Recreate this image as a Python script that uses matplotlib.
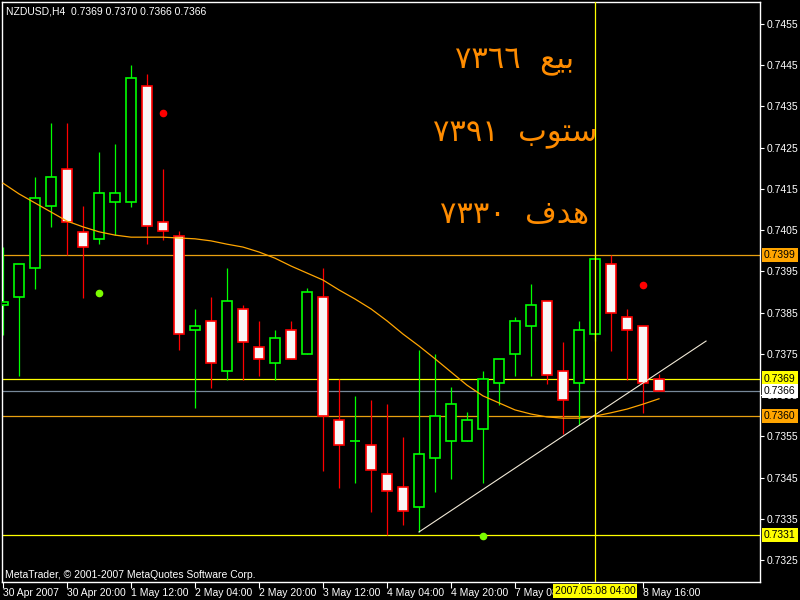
import matplotlib
matplotlib.use("Agg")
import matplotlib.pyplot as plt
from matplotlib.transforms import blended_transform_factory
import numpy as np

plt.rcParams["font.family"] = ["Liberation Sans", "DejaVu Sans"]

# ---- data (NZDUSD H4) ----
opens  = [0.73869, 0.73888, 0.73958, 0.74109, 0.74198, 0.74046, 0.74029, 0.74118, 0.74118, 0.74400,
          0.74070, 0.74036, 0.73808, 0.73830, 0.73708, 0.73859, 0.73767, 0.73728, 0.73808, 0.73750,
          0.73888, 0.73590, 0.73539, 0.73529, 0.73459, 0.73427, 0.73379, 0.73497, 0.73539, 0.73539,
          0.73568, 0.73679, 0.73750, 0.73818, 0.73878, 0.73708, 0.73679, 0.73798, 0.73968, 0.73839,
          0.73818, 0.73690]
highs  = [0.74009, 0.73968, 0.74179, 0.74310, 0.74310, 0.74109, 0.74240, 0.74259, 0.74451, 0.74429,
          0.74198, 0.74048, 0.73859, 0.73888, 0.73958, 0.73869, 0.73830, 0.73808, 0.73830, 0.73910,
          0.73958, 0.73689, 0.73648, 0.73638, 0.73628, 0.73548, 0.73759, 0.73750, 0.73670, 0.73609,
          0.73708, 0.73738, 0.73839, 0.73919, 0.73878, 0.73779, 0.73830, 0.73990, 0.73990, 0.73859,
          0.73818, 0.73700]
lows   = [0.73796, 0.73696, 0.73907, 0.74058, 0.73990, 0.73885, 0.74016, 0.74038, 0.74106, 0.74016,
          0.74026, 0.73759, 0.73619, 0.73667, 0.73687, 0.73687, 0.73696, 0.73687, 0.73738, 0.73750,
          0.73466, 0.73425, 0.73437, 0.73366, 0.73310, 0.73335, 0.73318, 0.73415, 0.73446, 0.73539,
          0.73437, 0.73626, 0.73696, 0.73696, 0.73677, 0.73556, 0.73577, 0.73780, 0.73757, 0.73687,
          0.73607, 0.73660]
closes = [0.73876, 0.73968, 0.74128, 0.74179, 0.74070, 0.74009, 0.74140, 0.74140, 0.74419, 0.74060,
          0.74048, 0.73798, 0.73818, 0.73728, 0.73878, 0.73779, 0.73738, 0.73788, 0.73738, 0.73900,
          0.73599, 0.73529, 0.73539, 0.73468, 0.73417, 0.73369, 0.73507, 0.73599, 0.73628, 0.73590,
          0.73689, 0.73738, 0.73830, 0.73869, 0.73699, 0.73638, 0.73808, 0.73980, 0.73849, 0.73808,
          0.73679, 0.73660]
ma_vals = [0.74164, 0.74138, 0.74116, 0.74094, 0.74072, 0.74058, 0.74046, 0.74038, 0.74033, 0.74033,
           0.74033, 0.74031, 0.74029, 0.74024, 0.74016, 0.74009, 0.73997, 0.73982, 0.73963, 0.73946,
           0.73929, 0.73905, 0.73883, 0.73859, 0.73830, 0.73798, 0.73769, 0.73738, 0.73706, 0.73674,
           0.73648, 0.73631, 0.73614, 0.73604, 0.73597, 0.73594, 0.73594, 0.73599, 0.73607, 0.73616,
           0.73628, 0.73641]
red_dots_x = [10, 40]
red_dots_y = [0.74334, 0.73917]
green_dots_x = [6, 30]
green_dots_y = [0.73898, 0.73308]
trend_x = [26, 43.94]
trend_y = [0.73318, 0.73781]
hlines_orange = [0.7399, 0.7360]
hlines_yellow = [0.7369, 0.7331]
bid = 0.7366
cross_k = 37
cross_label = "2007.05.08 04:00"

xtick_pos = [0, 4, 8, 12, 16, 20, 24, 28, 32, 36, 40]
xtick_labels = ["30 Apr 2007", "30 Apr 20:00", "1 May 12:00", "2 May 04:00", "2 May 20:00",
                "3 May 12:00", "4 May 04:00", "4 May 20:00", "7 May 08:00", "",
                "8 May 16:00"]
ytick_vals = [0.7325, 0.7335, 0.7345, 0.7355, 0.7365, 0.7375, 0.7385, 0.7395, 0.7405,
              0.7415, 0.7425, 0.7435, 0.7445, 0.7455]

header = "NZDUSD,H4  0.7369 0.7370 0.7366 0.7366"
footer = "MetaTrader, \u00a9 2001-2007 MetaQuotes Software Corp."
# Arabic notes (presentation forms, visual order): "بيع ٧٣٦٦", "ستوب ٧٣٩١", "هدف ٧٣٣٠"
notes = ["\u0667\u0663\u0666\u0666  \uFECA\uFEF4\uFE91",
         "\u0667\u0663\u0669\u0661  \uFE8F\uFEEE\uFE98\uFEB3",
         "\u0667\u0663\u0663\u0660  \uFED1\uFEAA\uFEEB"]
notes_y = [0.74458, 0.74281, 0.74089]

# ---- figure ----
fig = plt.figure(figsize=(8, 6), dpi=100, facecolor="black")
ax = fig.add_axes([2/800, 18/600, 758/800, 580/600], facecolor="black")
ax.set_xlim(-0.0625, 47.3125)
ax.set_ylim(0.731966, 0.746034)

for s in ax.spines.values():
    s.set_color("white")
    s.set_linewidth(1)

# horizontal / vertical lines
for v in hlines_orange:
    ax.axhline(v, color="#E8A010", lw=0.9, zorder=1)
for v in hlines_yellow:
    ax.axhline(v, color="#FFFF00", lw=0.9, zorder=1)
ax.axhline(bid, color="#778899", lw=0.9, zorder=1)
ax.axvline(cross_k, color="#FFFF00", lw=0.9, zorder=6)

# candles
n = len(opens)
xs = np.arange(n)
for i in range(n):
    o, h, l, c = opens[i], highs[i], lows[i], closes[i]
    bull = c >= o
    col = "#00FF00" if bull else "#FF0000"
    ax.vlines(i, l, h, color=col, lw=0.9, zorder=2)
    ax.bar(i, abs(c - o), bottom=min(o, c), width=0.58,
           facecolor="black" if bull else "#F8F8F8", edgecolor=col, linewidth=1.2, zorder=3)

# moving average
ax.plot(xs, ma_vals, color="#FFA500", lw=0.9, zorder=4)
# trend line
ax.plot(trend_x, trend_y, color="#F2EAD8", lw=0.8, zorder=5)
# dots
ax.plot(red_dots_x, red_dots_y, "o", color="#FF0000", ms=4.5, zorder=5)
ax.plot(green_dots_x, green_dots_y, "o", color="#7CFC00", ms=4.5, zorder=5)

# Arabic notes
for t, y in zip(notes, notes_y):
    ax.text(32, y, t, color="#FF8C00", fontsize=22, ha="center", va="center",
            family=["DejaVu Sans"], zorder=6)

# axes ticks
ax.yaxis.tick_right()
ax.set_yticks(ytick_vals)
ax.set_yticklabels([f"{v:.4f}" for v in ytick_vals])
ax.tick_params(axis="y", colors="white", labelsize=7.5, length=3, width=0.8, pad=2, direction="out")
ax.set_xticks(xtick_pos)
ax.set_xticklabels(xtick_labels, ha="left")
ax.tick_params(axis="x", colors="white", labelsize=7.5, length=4, width=0.8, pad=0.5, direction="out")

# price boxes on the right axis
tr = blended_transform_factory(fig.transFigure, ax.transData)
boxes = [(0.7399, "#FFA500"), (0.7369, "#FFFF00"), (0.7366, "#FFFFFF"),
         (0.7360, "#FFA500"), (0.7331, "#FFFF00")]
for v, fc in boxes:
    fig.text(764/800, v, f"{v:.4f}", transform=tr, color="black", fontsize=7.5,
             ha="left", va="center",
             bbox=dict(boxstyle="square,pad=0.2", fc=fc, ec="none"))

# crosshair time label
trx = blended_transform_factory(ax.transData, fig.transFigure)
fig.text(cross_k, 1 - 591/600, cross_label, transform=trx, color="black", fontsize=7.5,
         ha="center", va="center", bbox=dict(boxstyle="square,pad=0.2", fc="#FFFF00", ec="none"))

fig.text(6/800, 1 - 11/600, header, color="white", fontsize=7.5, ha="left", va="center")
fig.text(5/800, 1 - 575/600, footer, color="white", fontsize=7.5, ha="left", va="center")

fig.savefig("out.png", dpi=100, facecolor="black")
